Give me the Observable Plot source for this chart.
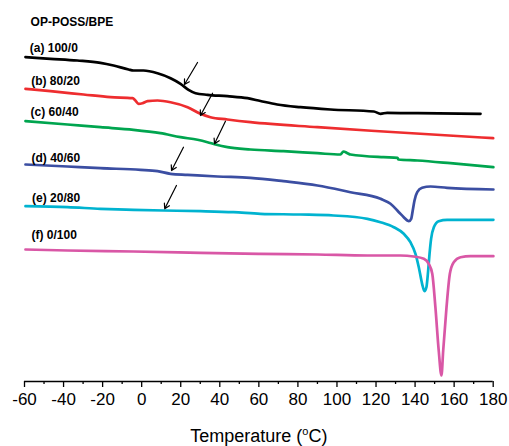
<!DOCTYPE html>
<html><head><meta charset="utf-8">
<script src="https://cdn.jsdelivr.net/npm/d3@7"></script>
<script src="https://cdn.jsdelivr.net/npm/@observablehq/plot@0.6"></script>
<style>body{margin:0;background:#fff}#chart svg{display:block}</style>
</head><body><div id="chart"></div>
<script>
// DSC heating traces: temperature (°C) and heat-flow signal (arbitrary units, offset stacked)
const tempA = [-59.5,-46.7,-33.0,-21.1,-14.4,-6.7,-4.2,0.9,8.1,14.8,19.9,24.0,27.6,33.7,43.9,54.2,60.8,69.4,81.3,96.7,118.9,122.3,125.7,141.1,173.5];
const sigA  = [324.3,322.7,321,318.7,316,312,311,311,308.3,303.3,297.7,291.7,288.3,286.7,285.3,283.3,280.5,277,274.3,272,270,267.7,268.7,268.3,267.7];

const tempB = [-59.5,-46.7,-29.8,-16.0,-4.7,-3.2,-1.6,0.4,3.0,8.1,14.8,23.5,30.1,35.2,43.9,55.7,90.0,123.8,180];
const sigB  = [292.7,290.3,287,284.3,283.3,281,277.7,278.3,280.3,281,279.3,274.3,267.7,264.3,262,259.3,254.3,250,243.3];

const tempC = [-59.5,-38.0,-21.1,-4.2,9.6,19.9,28.6,33.7,37.8,43.9,55.7,72.6,90.0,101.8,103.3,105.4,106.9,123.8,131.0,131.5,141.2,158.1,180.1];
const sigC  = [260.3,257,254.3,251.7,248.3,244.3,241.7,239.3,237,234.3,232,230.3,228.3,227,230,228.3,227,224.3,223.7,222,221,218.3,214.3];

const tempD = [-59.5,-38.0,-21.1,-0.6,8.1,14.8,23.5,38.8,55.7,72.6,90.0,106.9,122.3,127.4,131.7,134.2,136.0,136.8,138.0,138.8,139.7,141.1,143.6,147.9,156.4,180.1];
const sigD  = [217,215,213.3,211.7,210.3,207.7,206.7,205,203.7,200.3,196,189.3,182.7,177.7,169.3,164.3,161,160.3,162.7,171,181,189.3,193.7,195,193.7,192];

const tempE = [-59.5,-38.0,-21.1,-4.2,11.2,30.1,47.0,60.8,81.3,98.2,115.6,122.3,129.1,134.2,137.6,140.2,141.9,143.6,144.8,145.8,146.7,147.4,148.2,149.6,152.1,156.4,173.5,180.1];
const sigE  = [175.3,174.3,172.7,171.7,171,170.3,169.3,167.7,167,166,162.7,159.3,154.3,147.7,139.3,127.7,114.3,97.7,90.3,94.3,111,127.7,142.7,154.3,160.3,161.7,161.7,161.7];

const tempF = [-59.5,-38.0,-4.2,30.1,60.8,90.0,115.6,132.5,139.3,144.5,147.0,148.8,150.4,152.1,153.5,154.4,156.1,157.8,159.8,163.3,168.4,180.1];
const sigF  = [132,131,130,128.7,127.7,127,126,126,125,122.7,117.7,107.7,74.3,31,6,31,74.3,107.7,119.3,124.3,125.3,125.3];

const seriesNames  = ["(a) 100/0","(b) 80/20","(c) 60/40","(d) 40/60","(e) 20/80","(f) 0/100"];
const seriesColors = ["#000000","#ee2d2f","#00a54f","#3b4ea2","#00b3d0","#d957a6"];

// label anchors (data coordinates)
const labelTexts = ["OP-POSS/BPE", ...seriesNames];
const labelT = [-56.9,-57.3,-56.6,-56.9,-56.4,-56.1,-56.4];
const labelS = [359.3,333,300.8,269,223.8,183.8,146.5];

// arrows marking Tg (data coordinates)
const arrowT1 = [28.6,36.3,42.9,21.4,17.8];
const arrowS1 = [319,288.3,260.3,234.3,196];
const arrowT2 = [21.9,30.1,37.3,15.3,11.8];
const arrowS2 = [297,266,237.7,211,172.7];

const majorTicks = d3.range(-60,181,20);
const minorTicks = d3.range(-50,180,20);
const axisTitle = "Temperature (°C)";

const temps = [tempA,tempB,tempC,tempD,tempE,tempF];
const sigs  = [sigA,sigB,sigC,sigD,sigE,sigF];
const rows = [];
temps.forEach((ts,i)=>ts.forEach((t,j)=>rows.push({series:seriesNames[i], t, s:sigs[i][j]})));
const labels = labelTexts.map((txt,i)=>({txt, t:labelT[i], s:labelS[i]}));
const arrows = arrowT1.map((_,i)=>({x1:arrowT1[i],y1:arrowS1[i],x2:arrowT2[i],y2:arrowS2[i]}));

const chart = Plot.plot({
  width: 509, height: 446,
  marginTop: 0, marginBottom: 65, marginLeft: 24, marginRight: 16.3,
  style: {fontFamily: "'Liberation Sans', Arial, sans-serif", fontSize: "17px", color: "#000", background: "#fff"},
  x: {domain: [-60,180]},
  y: {domain: [0,381], axis: null},
  color: {domain: seriesNames, range: seriesColors},
  marks: [
    Plot.axisX({ticks: majorTicks, tickSize: 6, tickPadding: 5, fontSize: 17, label: null, strokeWidth: 1.3, tickFormat: d => String(d)}),
    Plot.axisX({ticks: minorTicks, tickSize: 3, tickFormat: () => "", label: null, strokeWidth: 1.3}),
    Plot.ruleY([0], {strokeWidth: 1.3}),
    Plot.line(rows, {x:"t", y:"s", z:"series", stroke:"series", strokeWidth: 2.7, curve: "monotone-x"}),
    Plot.arrow(arrows, {x1:"x1", y1:"y1", x2:"x2", y2:"y2", stroke:"black", strokeWidth: 1.2, headLength: 7}),
    Plot.text(labels, {x:"t", y:"s", text:"txt", textAnchor:"start", fontSize: 12, fontWeight: "bold"}),
    Plot.text([axisTitle], {frameAnchor: "bottom", dy: 48, lineAnchor: "top", fontSize: 18})
  ]
});
document.getElementById("chart").appendChild(chart);

// superscript the degree "o" in the axis title
chart.querySelectorAll("text").forEach(el => {
  if (el.textContent === axisTitle) {
    el.textContent = "";
    const ns = "http://www.w3.org/2000/svg";
    el.appendChild(document.createTextNode("Temperature ("));
    const sup = document.createElementNS(ns,"tspan");
    sup.setAttribute("font-size","11");
    sup.setAttribute("dy","-7");
    sup.textContent = "o";
    el.appendChild(sup);
    const rest = document.createElementNS(ns,"tspan");
    rest.setAttribute("dy","7");
    rest.textContent = "C)";
    el.appendChild(rest);
  }
});
</script>
</body></html>
